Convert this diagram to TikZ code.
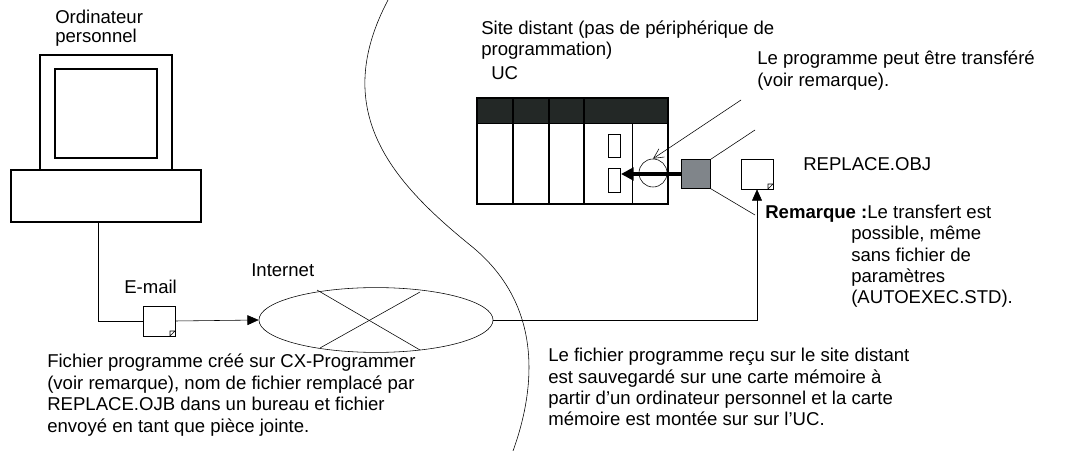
\documentclass[tikz,border=0pt]{standalone}
\usepackage{fontspec}
\setmainfont{Liberation Sans}
\usetikzlibrary{arrows.meta, shapes.geometric}
\definecolor{bandgrey}{RGB}{35, 40, 38}
\definecolor{boxgrey}{RGB}{128, 133, 138}

\begin{document}
\begin{tikzpicture}[x=0.025cm, y=-0.025cm,
	lbl/.style={anchor=west, inner sep=0pt, font=\fontsize{13.2}{15.2}\selectfont},
	para/.style={lbl, anchor=north west, align=left},
	doc/.style={draw, fill=white, minimum width=0.8cm, minimum height=0.75cm, inner sep=0pt}]
			\useasboundingbox (0,0) rectangle (1090,451);
			% Ordinateur personnel
			\draw[line width=1.3pt] (40,55) rectangle (172,170);
			\draw[line width=0.8pt] (55,69) rectangle (157,158);
			\draw[line width=1.3pt] (11,170) rectangle (201,222);
			\coordinate (PC) at (98,222);
			\node[lbl] at (55,17) {Ordinateur};
			\node[lbl] at (55,38) {personnel};
			
			% E-mail et Internet
			\node[doc] (MAIL) at (159,321) {};
			\draw[fill=white] (175,331) -- (170,336) -- (170,331) -- cycle;
			\node[lbl] at (124,287) {E-mail};
			\node[draw, ellipse, minimum width=5.85cm, minimum height=1.62cm, inner sep=0pt] (NET) at (376,320) {};
			\draw (317,290) -- (420,350); \draw (420,292) -- (320,348);
			\node[lbl] at (251,270) {Internet};
			
			% Courbe de separation
			\draw (388,0) .. controls (330,110) and (390,180) .. (470,245) .. controls (545,305) and (535,390) .. (513,451);
			
			% UC
			\draw[fill=bandgrey] (477,98) rectangle (668,123);
			\draw[line width=1.3pt] (477,98) rectangle (668,204);
			\foreach \xx in {513,549,584} \draw[line width=1pt] (\xx,98) -- (\xx,204);
			\draw (632,123) -- (632,204);
			\draw (608,134) rectangle (620,157);
			\draw (608,168) rectangle (620,192);
			\node[draw, circle, minimum size=0.7cm, inner sep=0pt] (PORT) at (653,173) {};
			\node[draw, fill=boxgrey, minimum width=0.72cm, minimum height=0.72cm, inner sep=0pt] (CARD) at (696,174) {};
			\draw[line width=2.2pt, -{Triangle[length=9pt, width=9pt]}] (CARD.west) -- (621,174);
			\node[lbl] at (481,30) {Site distant (pas de périphérique de};
			\node[lbl] at (481,51) {programmation)};
			\node[lbl] at (491,73) {UC};
			
			% REPLACE.OBJ
			\node[doc] (OBJ) at (757,174) {};
			\draw[fill=white] (773,184) -- (768,189) -- (768,184) -- cycle;
			\node[lbl] at (803,164) {REPLACE.OBJ};
			\draw[-{Triangle[length=8pt, width=7pt]}] (NET.east) -| (OBJ.south);
			
			% Remarques
			\coordinate (N1) at (741,100);
			\coordinate (N2) at (755,130);
			\coordinate (N3) at (755,215);
			\draw[-{Straight Barb[length=7pt, width=7pt]}] (N1) -- (PORT.north);
			\draw (N2) -- (CARD.north east);
			\draw (N3) -- (CARD.south east);
			\node[lbl] at (757,60) {Le programme peut être transféré};
			\node[lbl] at (757,82) {(voir remarque).};
			\node[lbl] at (765,214) {\textbf{Remarque :}Le transfert est};
			\node[para] at (851,226) {possible, même\\sans fichier de\\paramètres\\(AUTOEXEC.STD).};
			
			% Textes du bas
			\draw (PC) |- (MAIL.west); \draw[-{Triangle[length=8pt, width=7pt]}] (MAIL.east) -- (NET.west);
			\node[para] at (47,354) {Fichier programme créé sur CX-Programmer\\(voir remarque), nom de fichier remplacé par\\REPLACE.OJB dans un bureau et fichier\\envoyé en tant que pièce jointe.};
			\node[para] at (548,348) {Le fichier programme reçu sur le site distant\\est sauvegardé sur une carte mémoire à\\partir d'un ordinateur personnel et la carte\\mémoire est montée sur sur l'UC.};
		\end{tikzpicture}
\end{document}
